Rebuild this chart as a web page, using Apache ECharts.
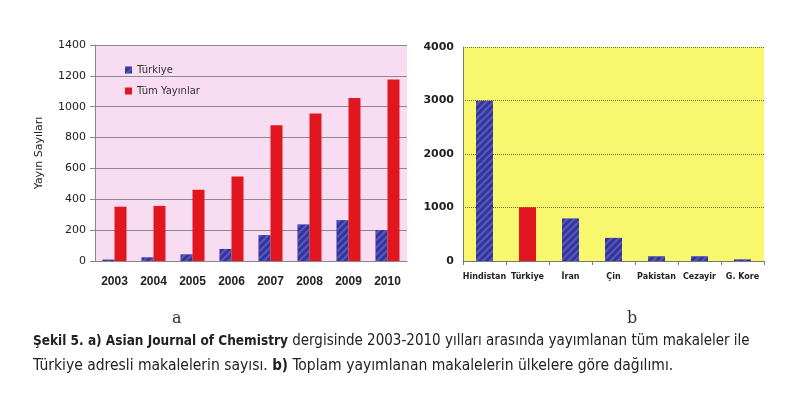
<!DOCTYPE html>
<html><head><meta charset="utf-8">
<script src="https://cdn.jsdelivr.net/npm/echarts@6/dist/echarts.min.js"></script>
<style>html,body{margin:0;padding:0;background:#fff}#c{width:785px;height:403px}</style>
</head><body><div id="c"></div>
<script>
var years = ['2003','2004','2005','2006','2007','2008','2009','2010'];
var turkiye = [9, 24, 43, 78, 168, 237, 265, 201];
var tumYayinlar = [352, 357, 461, 548, 880, 956, 1057, 1176];
var leftTicks = [0, 200, 400, 600, 800, 1000, 1200, 1400];
var countries = ['Hindistan','Türkiye','İran','Çin','Pakistan','Cezayir','G. Kore'];
var countryValues = [2995, 1005, 795, 432, 88, 88, 30];
var rightTicks = [0, 1000, 2000, 3000, 4000];

var BLUE = '#34349e';
var RED = '#e2161f';
function hatch() {
  return {color: 'rgba(120,120,210,0.55)', dashArrayX: [1, 0], dashArrayY: [1.5, 2.5], rotation: -Math.PI / 4, symbolSize: 1};
}
var CAP_FONT = '"DejaVu Sans Condensed", "DejaVu Sans"';

var chart = echarts.init(document.getElementById('c'));
chart.setOption({
  animation: false,
  backgroundColor: '#fff',
  grid: [
    {left: 95, top: 45, width: 312, height: 216, show: true, backgroundColor: '#f8dcf2', borderWidth: 0},
    {left: 463, top: 47, width: 301, height: 214, show: true, backgroundColor: '#f9f76e', borderWidth: 0}
  ],
  legend: {
    data: ['Türkiye', 'Tüm Yayınlar'],
    orient: 'vertical', left: 120, top: 60, itemGap: 11, itemWidth: 7, itemHeight: 7,
    icon: 'rect',
    textStyle: {fontSize: 10, color: '#333', fontFamily: 'DejaVu Sans'}
  },
  xAxis: [
    {gridIndex: 0, type: 'category', data: years,
      axisLine: {lineStyle: {color: '#888'}}, axisTick: {show: false},
      axisLabel: {interval: 0, fontSize: 12, fontWeight: 'bold', color: '#222', margin: 15, fontFamily: 'Liberation Sans'}},
    {gridIndex: 1, type: 'category', data: countries,
      axisLine: {lineStyle: {color: '#777'}}, axisTick: {show: true, length: 4, lineStyle: {color: '#777'}},
      axisLabel: {interval: 0, fontSize: 8, fontWeight: 'bold', color: '#222', margin: 12, fontFamily: 'DejaVu Sans'}}
  ],
  yAxis: [
    {gridIndex: 0, type: 'value', min: 0, max: 1400, interval: 200,
      name: 'Yayın Sayıları', nameLocation: 'middle', nameGap: 50, nameRotate: 90,
      nameTextStyle: {fontSize: 11, color: '#222', fontFamily: 'DejaVu Sans'},
      axisLine: {show: true, lineStyle: {color: '#888'}}, axisTick: {show: true, length: 5, lineStyle: {color: '#888'}},
      splitLine: {lineStyle: {color: '#8a8a8a', width: 1}},
      axisLabel: {fontSize: 11, color: '#222', margin: 9, fontFamily: 'DejaVu Sans',
        formatter: function (v) { return leftTicks.indexOf(v) >= 0 ? String(v) : ''; }}},
    {gridIndex: 1, type: 'value', min: 0, max: 4000, interval: 1000,
      axisLine: {show: true, lineStyle: {color: '#777'}}, axisTick: {show: false},
      splitLine: {lineStyle: {color: '#6b6b2a', type: 'dotted', width: 1}},
      axisLabel: {fontSize: 11, fontWeight: 'bold', color: '#222', margin: 9, fontFamily: 'DejaVu Sans',
        formatter: function (v) { return rightTicks.indexOf(v) >= 0 ? String(v) : ''; }}}
  ],
  series: [
    {name: 'Türkiye', type: 'bar', xAxisIndex: 0, yAxisIndex: 0, data: turkiye,
      barWidth: 12, barGap: '0%', itemStyle: {color: BLUE, decal: hatch()}},
    {name: 'Tüm Yayınlar', type: 'bar', xAxisIndex: 0, yAxisIndex: 0, data: tumYayinlar,
      barWidth: 12, barGap: '0%', itemStyle: {color: RED}},
    {name: 'Ülkeler', type: 'bar', xAxisIndex: 1, yAxisIndex: 1, barWidth: 17,
      data: countryValues.map(function (v, i) {
        return countries[i] === 'Türkiye'
          ? {value: v, itemStyle: {color: RED}}
          : {value: v, itemStyle: {color: BLUE, decal: hatch()}};
      })}
  ],
  graphic: [
    {type: 'text', left: 172, top: 311, style: {text: 'a', fontSize: 16, fontFamily: 'DejaVu Serif', fill: '#333'}},
    {type: 'text', left: 627, top: 311, style: {text: 'b', fontSize: 16, fontFamily: 'DejaVu Serif', fill: '#333'}},
    {type: 'text', left: 33, top: 334, style: {
      text: '{b|Şekil 5. a) Asian Journal of Chemistry} dergisinde 2003-2010 yılları arasında yayımlanan tüm makaleler ile',
      fontSize: 15, fontFamily: CAP_FONT, fill: '#222',
      rich: {b: {fontSize: 13.5, fontWeight: 'bold', fontFamily: CAP_FONT, fill: '#222'}}}},
    {type: 'text', left: 33, top: 358, style: {
      text: 'Türkiye adresli makalelerin sayısı. {b|b)} Toplam yayımlanan makalelerin ülkelere göre dağılımı.',
      fontSize: 15.5, fontFamily: CAP_FONT, fill: '#222',
      rich: {b: {fontSize: 15, fontWeight: 'bold', fontFamily: CAP_FONT, fill: '#222'}}}}
  ]
});
</script></body></html>
